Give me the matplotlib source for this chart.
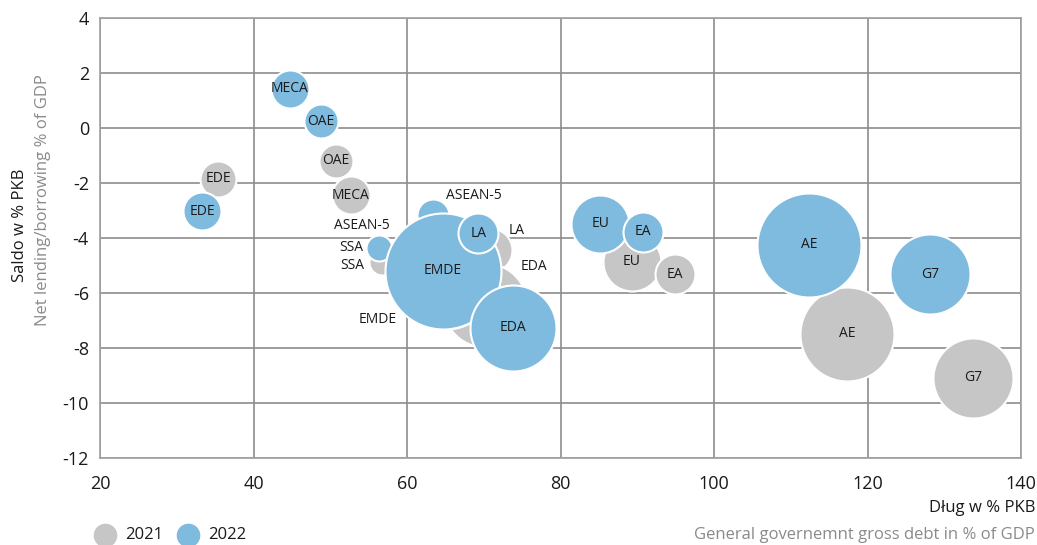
import numpy as np
import matplotlib.pyplot as plt
from matplotlib.lines import Line2D

plt.rcParams['font.family'] = ['Open Sans', 'DejaVu Sans']
plt.rcParams['axes.unicode_minus'] = False

# 2021 (grey)
names_21 = ["EDE", "OAE", "MECA", "ASEAN-5", "SSA", "LA", "EDA", "EMDE", "EU", "EA", "AE", "G7"]
debt_21 = [35.4, 50.7, 52.7, 60.4, 56.7, 70.8, 70.1, 65.1, 89.3, 94.9, 117.3, 133.8]
bal_21 = [-1.85, -1.2, -2.44, -4.25, -4.87, -4.44, -6.44, -5.55, -4.87, -5.31, -7.49, -9.09]
size_21 = [18, 17, 19, 15, 13, 22, 42, 48, 29, 20, 47, 40]

# 2022 (blue)
names_22 = ["EDE", "MECA", "OAE", "ASEAN-5", "SSA", "EMDE", "LA", "EDA", "EU", "EA", "AE", "G7"]
debt_22 = [33.3, 44.7, 48.8, 63.4, 56.3, 64.7, 69.3, 73.8, 85.2, 90.7, 112.4, 128.2]
bal_22 = [-3.02, 1.42, 0.25, -3.16, -4.36, -5.2, -3.82, -7.27, -3.49, -3.78, -4.25, -5.31]
size_22 = [19, 19, 17, 16, 13, 58, 20, 43, 29, 20, 52, 40]

# labels placed outside the bubble (offset in px, y down)
outside_21 = {"ASEAN-5": (-48, -19), "SSA": (-29, 4), "LA": (27, -20), "EDA": (49, -39), "EMDE": (-68, 39)}
outside_22 = {"ASEAN-5": (41, -19), "SSA": (-27, 0)}

grey = '#c6c6c6'
blue = '#7fbbdf'
txt = '#1a1a1a'

fig = plt.figure(figsize=(10.37, 5.45), dpi=100)
ax = fig.add_axes([100/1037, 1 - 458/545, 921/1037, 440/545])

px = 0.72  # points per pixel


def draw(names, xs, ys, rs, color, outside):
    s = [(2 * r * px) ** 2 for r in rs]
    for n, x, y, si in zip(names, xs, ys, s):
        ax.scatter(x, y, s=si, color=color, edgecolor='white', linewidth=1.5, zorder=3)
        if n in outside:
            dx, dy = outside[n]
            ax.annotate(n, (x, y), xytext=(dx * px, -dy * px), textcoords='offset points',
                        ha='center', va='center', fontsize=10, color=txt, zorder=5)
        else:
            ax.annotate(n, (x, y), ha='center', va='center', fontsize=10,
                        color=txt, zorder=5)


draw(names_21, debt_21, bal_21, size_21, grey, outside_21)
draw(names_22, debt_22, bal_22, size_22, blue, outside_22)

ax.set_xlim(20, 140)
ax.set_ylim(-12, 4)
ax.set_xticks(np.arange(20, 141, 20))
ax.set_yticks(np.arange(-12, 5, 2))
ax.grid(True, color='#8c8c8c', linewidth=1.2)
ax.set_axisbelow(True)
for sp in ax.spines.values():
    sp.set_color('#a0a0a0')
    sp.set_linewidth(1.2)
ax.tick_params(length=0, labelsize=13, colors=txt, pad=8)
ax.tick_params(axis='x', pad=12)

fig.text(20/1037, 1 - 225/545, "Saldo w % PKB", rotation=90, ha='center', va='center',
         fontsize=12, color=txt)
fig.text(43/1037, 1 - 200/545, "Net lending/borrowing % of GDP", rotation=90, ha='center',
         va='center', fontsize=12, color='#8a8a8a')
fig.text(1035/1037, 1 - 508/545, "Dług w % PKB", ha='right', va='center',
         fontsize=12, color=txt)
fig.text(1035/1037, 1 - 535/545, "General governemnt gross debt in % of GDP", ha='right',
         va='center', fontsize=12, color='#8a8a8a')

# legend
for xp, c, lab in [(105, grey, "2021"), (188, blue, "2022")]:
    fig.add_artist(Line2D([xp/1037], [1 - 535/545], transform=fig.transFigure, marker='o',
                          markersize=16, color=c, linestyle='none'))
    fig.text((xp + 20)/1037, 1 - 535/545, lab, fontsize=12, color=txt, ha='left', va='center')

fig.savefig('out.png', dpi=100)
